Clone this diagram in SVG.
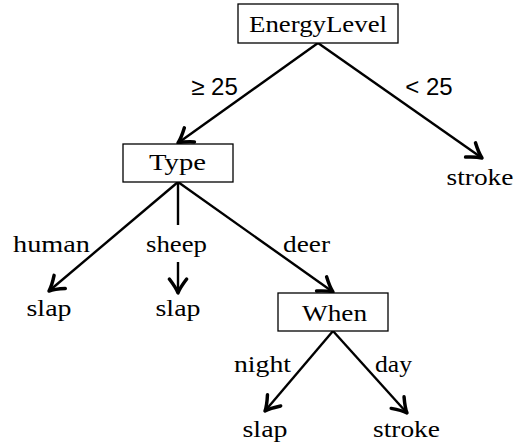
<svg xmlns="http://www.w3.org/2000/svg" width="516" height="444" viewBox="0 0 516 444">
<style>
.box{fill:#fff;stroke:#000;stroke-width:1.3}
.t{font-family:"Liberation Serif","DejaVu Serif",serif;font-size:23px;fill:#000;text-anchor:middle}
.s{font-family:"Liberation Sans","DejaVu Sans",sans-serif;font-size:24px;fill:#000;text-anchor:middle}
.e{fill:none;stroke:#000;stroke-width:2.4}
</style>
<defs>
<marker id="ah" markerUnits="userSpaceOnUse" markerWidth="24" markerHeight="24" viewBox="-14 -9 18 18" refX="0" refY="0" orient="auto">
<path d="M-10.5,-6.5 Q-4,-1.5 0,0 Q-4,1.5 -10.5,6.5" fill="none" stroke="#000" stroke-width="2.6" stroke-linecap="round" stroke-linejoin="round"/>
</marker>
</defs>
<rect width="516" height="444" fill="#fff"/>
<g id="edges">
<line class="e" x1="318" y1="43" x2="178" y2="143" marker-end="url(#ah)"/>
<line class="e" x1="318" y1="43" x2="482" y2="158" marker-end="url(#ah)"/>
<line class="e" x1="178" y1="182" x2="49" y2="291" marker-end="url(#ah)"/>
<line class="e" x1="178" y1="182" x2="178" y2="225"/>
<line class="e" x1="178" y1="262" x2="178" y2="293" marker-end="url(#ah)"/>
<line class="e" x1="178" y1="182" x2="333" y2="292" marker-end="url(#ah)"/>
<line class="e" x1="333" y1="331" x2="265" y2="411" marker-end="url(#ah)"/>
<line class="e" x1="333" y1="331" x2="407" y2="413" marker-end="url(#ah)"/>
<text class="s" x="214.5" y="95" font-family="Liberation Sans, sans-serif">≥ 25</text>
<text class="s" x="429" y="95" font-family="Liberation Sans, sans-serif">&lt; 25</text>
<text class="t" x="51.5" y="252" font-family="Liberation Serif, serif" textLength="77" lengthAdjust="spacingAndGlyphs">human</text>
<text class="t" x="176.5" y="252" font-family="Liberation Serif, serif" textLength="61" lengthAdjust="spacingAndGlyphs">sheep</text>
<text class="t" x="306.5" y="252" font-family="Liberation Serif, serif" textLength="47" lengthAdjust="spacingAndGlyphs">deer</text>
<text class="t" x="262.5" y="372" font-family="Liberation Serif, serif" textLength="57" lengthAdjust="spacingAndGlyphs">night</text>
<text class="t" x="393.5" y="372" font-family="Liberation Serif, serif" textLength="37" lengthAdjust="spacingAndGlyphs">day</text>
</g>
<g id="EnergyLevel">
<rect class="box" x="238" y="4" width="160" height="39"/>
<text class="t" x="318" y="32" font-family="Liberation Serif, serif" textLength="138" lengthAdjust="spacingAndGlyphs">EnergyLevel</text>
</g>
<g id="Type">
<rect class="box" x="123" y="144" width="110" height="38"/>
<text class="t" x="177.5" y="170" font-family="Liberation Serif, serif" textLength="57" lengthAdjust="spacingAndGlyphs">Type</text>
</g>
<g id="When">
<rect class="box" x="278" y="293" width="110" height="38"/>
<text class="t" x="334.5" y="321" font-family="Liberation Serif, serif" textLength="65" lengthAdjust="spacingAndGlyphs">When</text>
</g>
<g id="stroke1"><text class="t" x="480" y="185" font-family="Liberation Serif, serif" textLength="67" lengthAdjust="spacingAndGlyphs">stroke</text></g>
<g id="slap1"><text class="t" x="49" y="316" font-family="Liberation Serif, serif" textLength="45" lengthAdjust="spacingAndGlyphs">slap</text></g>
<g id="slap2"><text class="t" x="178" y="316" font-family="Liberation Serif, serif" textLength="45" lengthAdjust="spacingAndGlyphs">slap</text></g>
<g id="slap3"><text class="t" x="265" y="437" font-family="Liberation Serif, serif" textLength="45" lengthAdjust="spacingAndGlyphs">slap</text></g>
<g id="stroke2"><text class="t" x="406.5" y="437" font-family="Liberation Serif, serif" textLength="67" lengthAdjust="spacingAndGlyphs">stroke</text></g>
</svg>
